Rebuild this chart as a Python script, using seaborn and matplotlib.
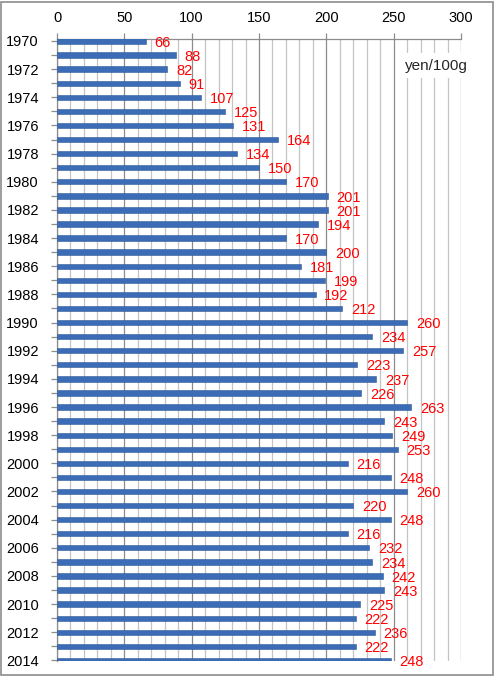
import pandas as pd
import seaborn as sns
import matplotlib.pyplot as plt
from matplotlib.patches import Rectangle
from matplotlib.ticker import MultipleLocator

sns.set_theme(style='white')
plt.rcParams['font.family'] = ['Liberation Sans', 'DejaVu Sans']

years = list(range(1970, 2015))
prices = [66, 88, 82, 91, 107, 125, 131, 164, 134, 150,
          170, 201, 201, 194, 170, 200, 181, 199, 192, 212,
          260, 234, 257, 223, 237, 226, 263, 243, 249, 253,
          216, 248, 260, 220, 248, 216, 232, 234, 242, 243,
          225, 222, 236, 222, 248]
unit_label = 'yen/100g'

df = pd.DataFrame({'year': [str(y) for y in years], 'price': prices})

fig = plt.figure(figsize=(4.94, 6.77), dpi=100)
ax = fig.add_axes([57 / 494, 1 - 661 / 677, (461 - 57) / 494, (661 - 39) / 677])

sns.barplot(data=df, x='price', y='year', orient='h', color='#3b6cb5',
            saturation=1, width=0.38, edgecolor='#2f5a9a', linewidth=0.4, ax=ax, zorder=3)

# value labels
for i, v in enumerate(prices):
    ax.text(v + 6.5, i + 0.12, str(v), color='#ff0000', fontsize=10.5,
            ha='left', va='center', zorder=5, clip_on=False)

ax.set_xlim(0, 300)
ax.set_ylim(44.04, -0.14)
ax.xaxis.set_major_locator(MultipleLocator(50))
ax.xaxis.set_minor_locator(MultipleLocator(10))
ax.xaxis.tick_top()
ax.set_xlabel('')
ax.set_ylabel('')

ax.set_yticks(range(len(years)))
ax.set_yticklabels([str(y) if (y - 1970) % 2 == 0 else '' for y in years])

ax.grid(which='major', axis='x', color='#8c8c8c', linewidth=0.9, zorder=0)
ax.grid(which='minor', axis='x', color='#c4c4c4', linewidth=0.9, zorder=0)
ax.set_axisbelow(True)

ax.tick_params(axis='x', which='major', top=True, bottom=False, length=4, width=0.9,
               color='#8c8c8c', labelsize=10.5, labelcolor='#000000', pad=6)
ax.tick_params(axis='x', which='minor', top=False, bottom=False)
ax.tick_params(axis='y', left=True, length=4, width=0.9, color='#8c8c8c',
               labelsize=10.5, labelcolor='#000000', pad=9)

for side in ['right', 'bottom']:
    ax.spines[side].set_visible(False)
for side in ['top', 'left']:
    ax.spines[side].set_color('#8c8c8c')
    ax.spines[side].set_linewidth(0.9)

ax.text(282, 1.75, unit_label, fontsize=11, ha='center', va='center', zorder=4,
        bbox=dict(facecolor='white', edgecolor='none', pad=4))

fig.patches.append(Rectangle((0.003, 0.003), 0.994, 0.994, transform=fig.transFigure,
                             fill=False, edgecolor='#8c8c8c', linewidth=1.2))

fig.savefig('out.png', dpi=100)
